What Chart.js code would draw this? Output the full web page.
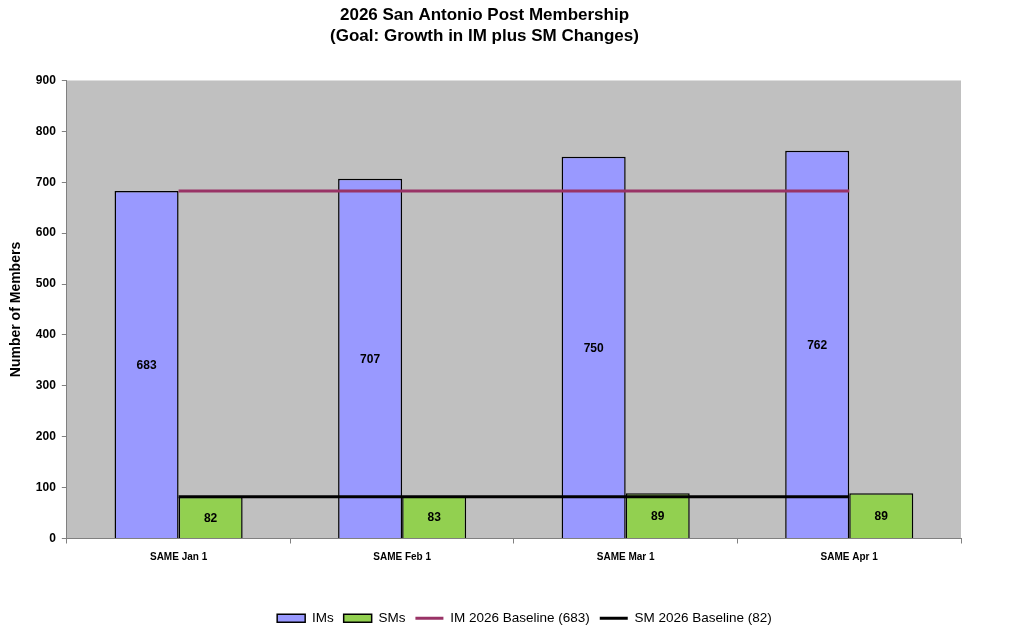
<!DOCTYPE html>
<html>
<head>
<meta charset="utf-8">
<script src="https://cdn.jsdelivr.net/npm/chart.js@4.4.1/dist/chart.umd.min.js"></script>
<style>
  html, body { margin: 0; padding: 0; background: #fff; }
</style>
</head>
<body>
<canvas id="chart" width="1024" height="631"></canvas>
<script>
const categories = ['SAME Jan 1', 'SAME Feb 1', 'SAME Mar 1', 'SAME Apr 1'];
const imValues = [683, 707, 750, 762];
const smValues = [82, 83, 89, 89];
const imBaseline = [683, 683, 683, 683];
const smBaseline = [82, 82, 82, 82];
const titleLines = ['2026 San Antonio Post Membership', '(Goal: Growth in IM plus SM Changes)'];

const FONT = '"Liberation Sans", Arial, Helvetica, sans-serif';

// grey plot area behind the bars
const plotBackground = {
  id: 'plotBackground',
  beforeDraw(chart) {
    const { ctx, chartArea: a } = chart;
    ctx.save();
    ctx.fillStyle = '#c0c0c0';
    ctx.fillRect(a.left, a.top, a.right - a.left, a.bottom - a.top);
    ctx.restore();
  }
};

// value labels in the middle of each bar
const barLabels = {
  id: 'barLabels',
  afterDatasetsDraw(chart) {
    const ctx = chart.ctx;
    ctx.save();
    ctx.font = 'bold 12px ' + FONT;
    ctx.fillStyle = '#000';
    ctx.textAlign = 'center';
    ctx.textBaseline = 'middle';
    chart.data.datasets.forEach((ds, i) => {
      if (ds.type !== 'bar') return;
      chart.getDatasetMeta(i).data.forEach((el, j) => {
        ctx.fillText(ds.data[j], el.x, (el.y + el.base) / 2 + 1);
      });
    });
    ctx.restore();
  }
};

// the legend sits a bit right of the page centre in the original
const legendShift = {
  id: 'legendShift',
  afterLayout(chart) {
    chart.legend.left += 40;
    chart.legend.right += 40;
  }
};

new Chart(document.getElementById('chart'), {
  data: {
    labels: categories,
    datasets: [
      {
        type: 'bar', label: 'IMs', data: imValues,
        backgroundColor: '#9999ff', borderColor: '#000', borderWidth: 1.5,
        barPercentage: 1.0, categoryPercentage: 0.573, pointStyle: 'rect', order: 1
      },
      {
        type: 'bar', label: 'SMs', data: smValues,
        backgroundColor: '#92d050', borderColor: '#000', borderWidth: 1.5,
        barPercentage: 1.0, categoryPercentage: 0.573, pointStyle: 'rect', order: 1
      },
      {
        type: 'line', label: 'IM 2026 Baseline (683)', data: imBaseline,
        borderColor: '#993366', backgroundColor: '#993366', borderWidth: 3,
        pointRadius: 0, pointStyle: 'line', order: 0
      },
      {
        type: 'line', label: 'SM 2026 Baseline (82)', data: smBaseline,
        borderColor: '#000', backgroundColor: '#000', borderWidth: 3,
        pointRadius: 0, pointStyle: 'line', order: 0
      }
    ]
  },
  options: {
    responsive: false,
    animation: false,
    layout: { padding: { left: 8, right: 63, top: 0, bottom: -4 } },
    plugins: {
      title: {
        display: true,
        text: titleLines,
        color: '#000',
        font: { family: FONT, size: 17, weight: 'bold', lineHeight: 1.22 },
        padding: { top: 5, bottom: 34 }
      },
      legend: {
        position: 'bottom',
        labels: {
          color: '#000',
          font: { family: FONT, size: 13.5 },
          usePointStyle: true,
          pointStyleWidth: 28,
          boxHeight: 8,
          padding: 10,
          sort: (a, b) => a.datasetIndex - b.datasetIndex
        }
      },
      tooltip: { enabled: false }
    },
    scales: {
      x: {
        grid: { display: true, drawOnChartArea: false, offset: true, tickLength: 5, color: '#808080' },
        border: { color: '#808080' },
        ticks: { color: '#000', font: { family: FONT, size: 10, weight: 'bold' }, padding: 8 },
        afterFit(scale) { scale.height = 63; }
      },
      y: {
        min: 0, max: 900,
        grid: { display: true, drawOnChartArea: false, tickLength: 5, color: '#808080' },
        border: { color: '#808080' },
        ticks: { stepSize: 100, color: '#000', font: { family: FONT, size: 12, weight: 'bold' }, padding: 6 },
        title: {
          display: true, text: 'Number of Members', color: '#000',
          font: { family: FONT, size: 14, weight: 'bold' },
          padding: { top: 0, bottom: 5 }
        }
      }
    }
  },
  plugins: [plotBackground, barLabels, legendShift]
});
</script>
</body>
</html>
